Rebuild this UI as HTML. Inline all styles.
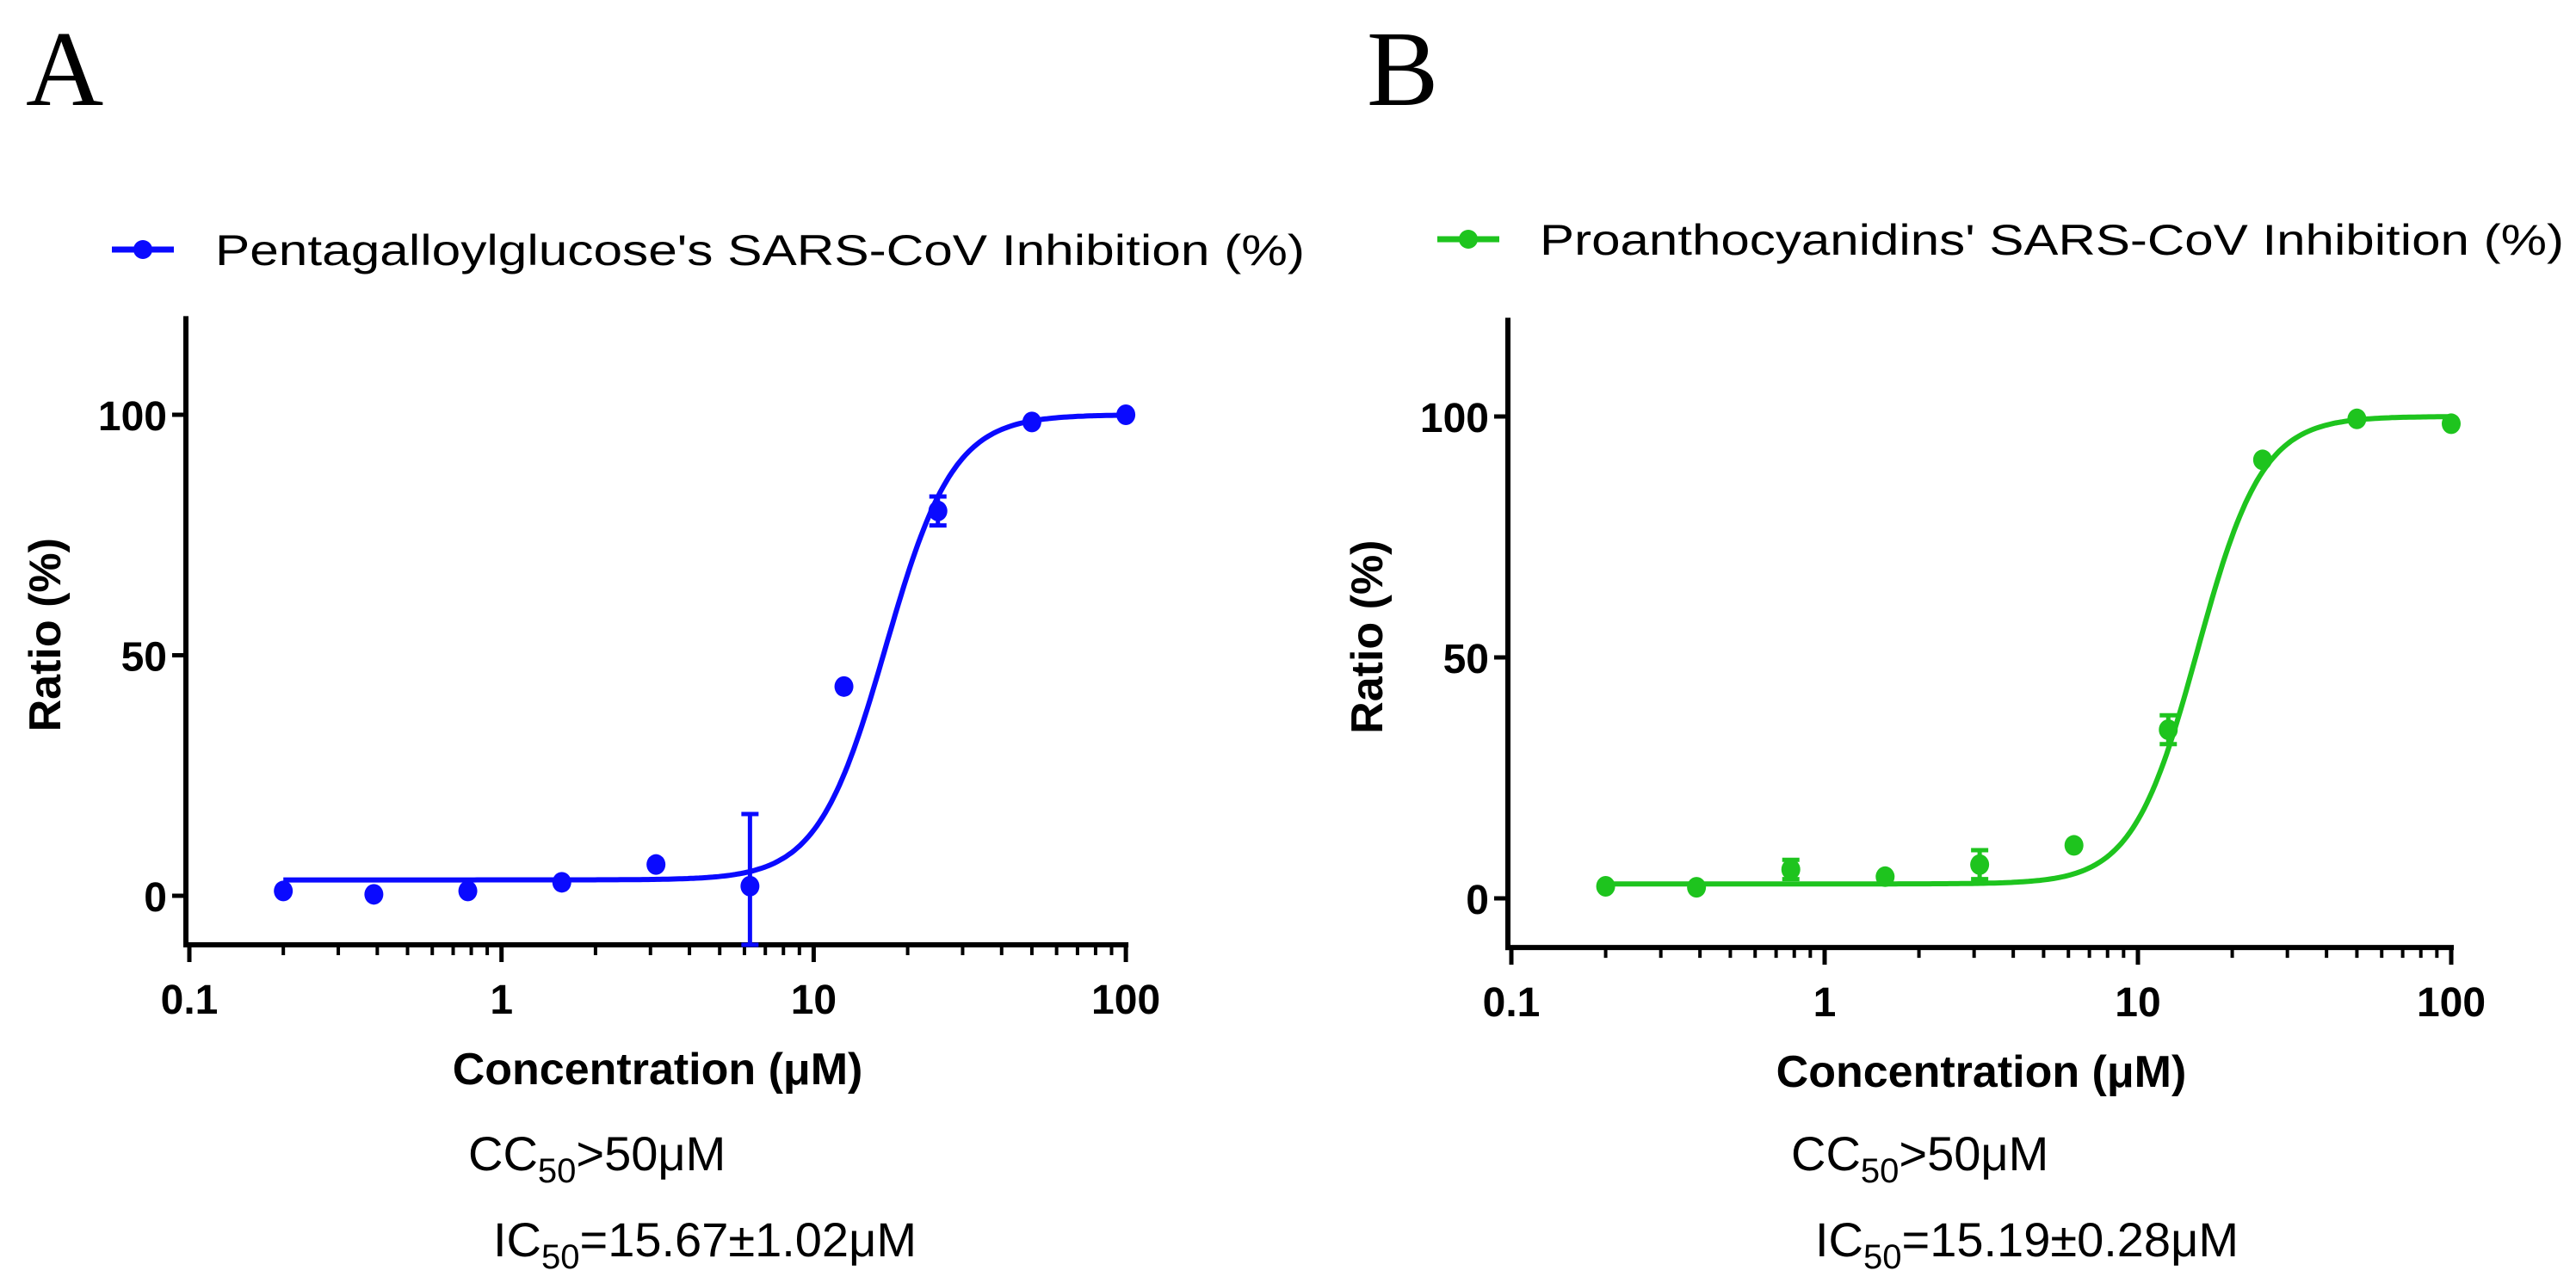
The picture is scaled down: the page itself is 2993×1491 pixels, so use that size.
<!DOCTYPE html>
<html><head><meta charset="utf-8"><style>
html,body{margin:0;padding:0;background:#fff;}
svg{display:block;font-family:"Liberation Sans",Arial,sans-serif;}
</style></head><body>
<svg id="fig" width="2993" height="1491" viewBox="0 0 2993 1491" xmlns="http://www.w3.org/2000/svg">
<text x="30" y="122" font-family="Liberation Serif,serif" font-size="125">A</text>
<text x="1588" y="122" font-family="Liberation Serif,serif" font-size="125">B</text>
<g id="pa"></g>
<g id="pb"></g>
</svg>
<script>
const concA = [0.2, 0.39, 0.78, 1.56, 3.125, 6.25, 12.5, 25, 50, 100];
const ratioA = [1, 0.3, 1, 2.8, 6.5, 2, 43.5, 80, 98.5, 100];
const errA = [0, 0, 0, 0, 0, 15, 0, 3, 0, 0];
const fitA = [3.3, 100, 17, 4.0]; // bottom, top, IC50, hill
const concB = [0.2, 0.39, 0.78, 1.56, 3.125, 6.25, 12.5, 25, 50, 100];
const ratioB = [2.5, 2.3, 6, 4.5, 7, 11, 35, 91, 99.5, 98.5];
const errB = [0, 0, 2, 0, 3, 0, 3, 0, 0, 0];
const fitB = [3.0, 100, 15.5, 4.2];
const yTicks = [0, 50, 100];
const xTicks = [0.1, 1, 10, 100];
const xTickLabels = ["0.1", "1", "10", "100"];

const NS = "http://www.w3.org/2000/svg";
function mk(parent, tag, attrs, text){
  const e = document.createElementNS(NS, tag);
  for (const k in attrs) e.setAttribute(k, attrs[k]);
  if (text !== undefined) e.textContent = text;
  parent.appendChild(e);
  return e;
}

function panel(gid, o){
  const g = document.getElementById(gid);
  const x0 = o.x0, dec = o.dec;
  const sx = v => x0 + Math.log10(v / 0.1) * dec;
  const sy = v => o.y0 - v * (o.y0 - o.y100) / 100;
  const axBottom = sy(-10.2), axTop = sy(120.5);
  let e = mk(g, "line", {x1: x0 - 4, y1: axTop, x2: x0 - 4, y2: axBottom + 3, stroke: "#000", "stroke-width": 6});
  
  
  e = mk(g, "line", {x1: x0 - 7, y1: axBottom, x2: sx(100) + 3, y2: axBottom, stroke: "#000", "stroke-width": 6});
  
  
  yTicks.forEach(t => {
    const y = sy(t);
    let l = mk(g, "line", {x1: x0 - 20, y1: y, x2: x0 - 4, y2: y, stroke: "#000", "stroke-width": 5});
    
    
    let tx = mk(g, "text", {x: x0 - 26, y: y + 18, "text-anchor": "end", "font-size": 48, "font-weight": "bold"}, String(t));
    
    
  });
  for (let d = 0; d < 3; d++) {
    for (let m = 2; m <= 9; m++) {
      const x = sx(Math.pow(10, d - 1) * m);
      let l = mk(g, "line", {x1: x, y1: axBottom, x2: x, y2: axBottom + 12, stroke: "#000", "stroke-width": 4});
      
      
    }
  }
  xTicks.forEach((t, i) => {
    const x = sx(t);
    let l = mk(g, "line", {x1: x, y1: axBottom, x2: x, y2: axBottom + 20, stroke: "#000", "stroke-width": 5});
    
    
    let tx = mk(g, "text", {x: x, y: axBottom + 80, "text-anchor": "middle", "font-size": 48, "font-weight": "bold"}, xTickLabels[i]);
    
    
  });
  let t = mk(g, "text", {x: (x0 + sx(100)) / 2, y: axBottom + 162, "text-anchor": "middle", "font-size": 52, "font-weight": "bold"}, "Concentration (\u03bcM)");
  
  
  t = mk(g, "text", {x: 0, y: 0, "text-anchor": "middle", "font-size": 52, "font-weight": "bold", transform: `translate(${x0 - 150},${(axTop + axBottom) / 2 + 5}) rotate(-90)`}, "Ratio (%)");
  
  
  const f = o.fit;
  let pts = [];
  for (let i = 0; i <= 300; i++) {
    const lx = Math.log10(o.conc[0]) + (Math.log10(o.conc[o.conc.length - 1]) - Math.log10(o.conc[0])) * i / 300;
    const c = Math.pow(10, lx);
    const v = f[0] + (f[1] - f[0]) / (1 + Math.pow(f[2] / c, f[3]));
    pts.push(sx(c).toFixed(1) + "," + sy(v).toFixed(1));
  }
  let p = mk(g, "polyline", {points: pts.join(" "), fill: "none", stroke: o.color, "stroke-width": 6});
  
  
  o.conc.forEach((c, i) => {
    const x = sx(c), y = sy(o.ratio[i]);
    if (o.err[i] > 0) {
      const y1 = sy(o.ratio[i] + o.err[i]), y2 = Math.min(sy(o.ratio[i] - o.err[i]), axBottom);
      let eb = mk(g, "path", {d: `M${x},${y1}V${y2}M${x - 10},${y1}H${x + 10}M${x - 10},${y2}H${x + 10}`, stroke: o.color, "stroke-width": 5, fill: "none"});
      
      
    }
    let pt = mk(g, "ellipse", {cx: x, cy: y, rx: 11, ry: 12, fill: o.color});
    
    
  });
  let lg = mk(g, "g", {});
  
  
  mk(lg, "line", {x1: o.lx, y1: o.ly, x2: o.lx + 72, y2: o.ly, stroke: o.color, "stroke-width": 7});
  mk(lg, "circle", {cx: o.lx + 36, cy: o.ly, r: 11, fill: o.color});
  mk(lg, "text", {x: o.ltx, y: o.ly + 18, "font-size": 50, textLength: o.ltw, lengthAdjust: "spacingAndGlyphs"}, o.label);
  let c1 = mk(g, "text", {x: o.ccx, y: 1360, "font-size": 56});
  
  
  c1.innerHTML = 'CC<tspan font-size="40" dy="14">50</tspan><tspan dy="-14">&gt;50\u03bcM</tspan>';
  let c2 = mk(g, "text", {x: o.icx, y: 1460, "font-size": 56});
  
  
  c2.innerHTML = 'IC<tspan font-size="40" dy="14">50</tspan><tspan dy="-14">=' + o.ic + '\u03bcM</tspan>';
}

panel("pa", {x0: 220, dec: 362.7, y0: 1041, y100: 482, conc: concA, ratio: ratioA, err: errA, fit: fitA, color: "#0a0aff",
  lx: 130, ly: 290, ltx: 250, ltw: 1266, label: "Pentagalloylglucose's SARS-CoV Inhibition (%)", ccx: 544, icx: 573, ic: "15.67\u00b11.02"});
panel("pb", {x0: 1756, dec: 364, y0: 1044, y100: 484, conc: concB, ratio: ratioB, err: errB, fit: fitB, color: "#1ec41e",
  lx: 1670, ly: 278, ltx: 1789, ltw: 1190, label: "Proanthocyanidins' SARS-CoV Inhibition (%)", ccx: 2081, icx: 2109, ic: "15.19\u00b10.28"});
</script>
</body></html>
